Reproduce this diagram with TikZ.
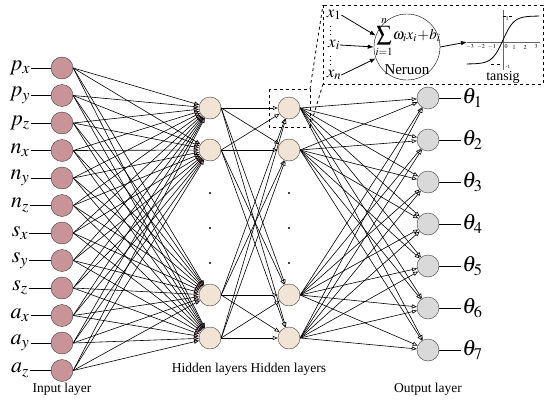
\documentclass[tikz,border=0pt]{standalone}
\usepackage{mathptmx}
\usepackage{fontspec}
\setmainfont{Liberation Serif}
\usetikzlibrary{arrows.meta,positioning}
\definecolor{inpink}{RGB}{201,148,152}
\definecolor{hidcream}{RGB}{242,228,213}
\definecolor{outgray}{RGB}{217,217,217}
\tikzset{
  neuron/.style={circle,draw=black!75,minimum size=22pt,inner sep=0pt},
  inneuron/.style={neuron,fill=inpink},
  hidneuron/.style={neuron,fill=hidcream},
  outneuron/.style={neuron,fill=outgray},
  conn/.style={line width=0.6pt},
  tipin/.style={-{Triangle[length=5pt,width=4pt,fill=inpink]}},
  tipopen/.style={-{Triangle[length=5pt,width=4pt,fill=white]}},
  layertext/.style={font=\fontsize{13.5}{15}\selectfont},
  varlabel/.style={font=\fontsize{22}{24}\selectfont,inner sep=1pt},
  xlabel/.style={font=\fontsize{17}{19}\selectfont,inner sep=0pt}
}

\begin{document}
\begin{tikzpicture}[x=1pt,y=-1pt]
	\useasboundingbox (0,0) rectangle (550,402);
	\foreach \lab [count=\i] in {p_x,p_y,p_z,n_x,n_y,n_z,s_x,s_y,s_z,a_x,a_y,a_z}{
		\node[inneuron] (in\i) at (62,{68+27.5*(\i-1)}){};
		\node[varlabel] (lin\i) at (20,{68+27.5*(\i-1)}){$\lab$};
		\draw[conn] (lin\i.east) -- (in\i.west);
	}
	\foreach \yy [count=\i] in {108,150,295,338}{
		\node[hidneuron] (ha\i) at (210,\yy){};
		\node[hidneuron] (hb\i) at (289,\yy){};
	}
	\foreach \yy in {193,228,263}{
		\fill (210,\yy) circle (1.2pt);
		\fill (289,\yy) circle (1.2pt);
	}
	\foreach \i in {1,...,7}{
		\node[outneuron] (out\i) at (428,{98+42*(\i-1)}){};
		\node[varlabel,right=22pt of out\i] (lout\i){$\theta_{\i}$};
		\draw[conn] (out\i.east) -- ++(22pt,0);
	}
	\foreach \i in {1,...,12}
		\foreach \j in {1,...,4}
			\draw[conn,tipin] (in\i.east) -- (ha\j);
	\foreach \i in {1,...,4}
		\foreach \j in {1,...,4}
			\draw[conn,tipopen] (ha\i.east) -- (hb\j);
	\foreach \i in {1,...,4}
		\foreach \j in {1,...,7}
			\draw[conn,tipopen] (hb\i.east) -- (out\j);
	\node[layertext] (inlayer) at (62,389){Input layer};
	\node[layertext] (hidlayer) at (249,369){Hidden layers Hidden layers};
	\node[layertext] (outlayer) at (428,389){Output layer};
	% zoomed neuron
	\draw[dashed,line width=0.8pt] (269,89) rectangle (310,127);
	\draw[dashed,line width=0.8pt] (323,5) rectangle (543,84);
	\draw[dashed,line width=0.8pt] (310,89) -- (323,5);
	\draw[dashed,line width=0.8pt] (310,127) -- (323,84);
	\node[circle,draw,minimum size=66pt,inner sep=0pt] (sumcell) at (407,47){};
	\node[inner sep=0pt] (sumtext) at (408,37){\fontsize{15}{17}\selectfont$\displaystyle\sum_{i=1}^{n}\!\omega_i x_i\!+\!b_i$};
	\node[font=\fontsize{15}{17}\selectfont,inner sep=0pt] (neruon) at (407,70){Neruon};
	\node[xlabel] (x1) at (334,15){$x_1$};
	\node[xlabel] (xi) at (334,45){$x_i$};
	\node[xlabel] (xn) at (334,75){$x_n$};
	\foreach \yy in {26.5,30.5,34.5,56.5,60.5,64.5}
		\fill (330.5,\yy) circle (0.7pt);
	\draw[line width=0.8pt,-{Latex[length=6pt]}] (x1.east) -- (sumcell.160);
	\draw[line width=0.8pt,-{Latex[length=6pt]}] (xi.east) -- (sumcell.180);
	\draw[line width=0.8pt,-{Latex[length=6pt]}] (xn.east) -- (sumcell.200);
	\coordinate (tanin) at (467,42);
	\draw[line width=0.8pt,-{Latex[length=6pt]}] (sumcell.east) -- (tanin);
	\draw[line width=0.5pt,gray!80!black] (tanin) -- (540,42);
	\draw[line width=0.5pt,gray!80!black] (503,10) -- (503,70);
	\draw[line width=0.8pt] plot[domain=-3.3:3.3,samples=60,smooth] ({503+11*\x},{40-24*tanh(\x)});
	\draw[dashed,line width=0.4pt] (503,16) -- (515,16);
	\draw[dashed,line width=0.4pt] (491,64) -- (503,64);
	\foreach \t/\xx in {-3/470,-2/481,-1/492,0/506,1/514,2/525,3/536}
		\node[font=\fontsize{6}{6}\selectfont,inner sep=0pt] at (\xx,47){$\t$};
	\node[font=\fontsize{6}{6}\selectfont,inner sep=0pt] (one) at (507,19){1};
	\node[font=\fontsize{5}{5}\selectfont,inner sep=0pt] (mone) at (508,66.5){-1};
	\node[font=\fontsize{14}{16}\selectfont,inner sep=0pt] (tansig) at (503,77.5){tansig};
\end{tikzpicture}
\end{document}
